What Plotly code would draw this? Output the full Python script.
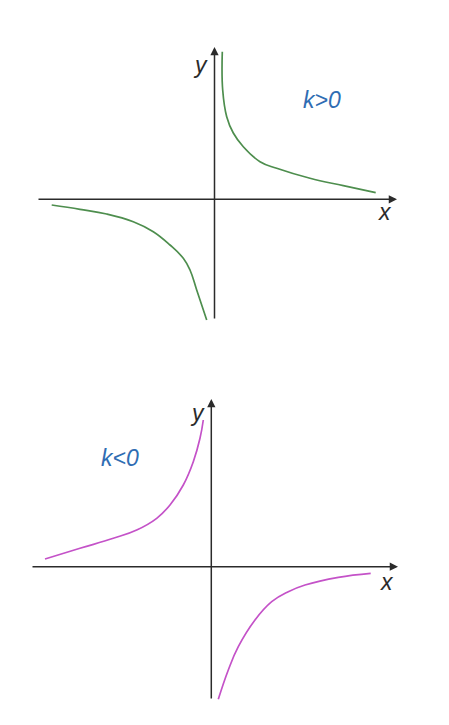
import plotly.graph_objects as go

# ---- data (units: arbitrary, origin at axis crossing) ----
# top chart: k>0
top_right_x = [0.78, 0.82, 1.22, 1.88, 2.88, 4.55, 6.22, 9.55, 12.88, 16.12]
top_right_y = [14.76, 10.93, 8.26, 6.63, 5.26, 3.76, 3.10, 2.10, 1.36, 0.66]
top_left_x = [-16.28, -13.45, -10.78, -8.12, -6.12, -4.45, -3.12, -2.45, -1.78, -0.78]
top_left_y = [-0.57, -1.0, -1.47, -2.24, -3.24, -4.57, -5.90, -7.07, -9.07, -12.07]
top_axis_x = [-17.75, 18.25]
top_axis_y = [-12.07, 15.23]

# bottom chart: k<0
bot_left_x = [-16.63, -13.13, -9.8, -7.46, -5.46, -4.13, -2.8, -1.8, -1.13, -0.8]
bot_left_y = [0.77, 1.84, 2.84, 3.67, 4.84, 6.17, 8.17, 10.5, 12.84, 14.67]
bot_right_x = [0.7, 1.7, 2.7, 4.37, 6.04, 7.7, 9.37, 12.7, 15.94]
bot_right_y = [-13.26, -10.33, -8.0, -5.33, -3.5, -2.5, -1.83, -1.06, -0.66]
bot_axis_x = [-18.03, 18.67]
bot_axis_y = [-13.33, 16.77]

labels_top = {"y": (-1.45, 13.43), "x": (17.05, -1.27), "k": (10.75, 9.93)}
labels_bot = {"y": (-1.43, 15.37), "x": (17.57, -1.53), "k": (-9.13, 10.87)}

GREEN = "#4e8e4e"
MAGENTA = "#c452c8"
AXIS = "#2b2b2b"
BLUE = "#2f6db3"

fig = go.Figure()
for xs, ys in [(top_right_x, top_right_y), (top_left_x, top_left_y)]:
    fig.add_trace(go.Scatter(x=xs, y=ys, mode="lines", line=dict(color=GREEN, width=1.7, shape="spline", smoothing=1.2),
                             xaxis="x", yaxis="y", showlegend=False, hoverinfo="skip"))
for xs, ys in [(bot_left_x, bot_left_y), (bot_right_x, bot_right_y)]:
    fig.add_trace(go.Scatter(x=xs, y=ys, mode="lines", line=dict(color=MAGENTA, width=1.7, shape="spline", smoothing=1.2),
                             xaxis="x2", yaxis="y2", showlegend=False, hoverinfo="skip"))

anns = []
def axis_arrows(ax_x, ax_y, xr, yr):
    anns.append(dict(x=ax_x[1], y=0, ax=ax_x[0], ay=0, xref=xr, yref=yr, axref=xr, ayref=yr,
                     showarrow=True, arrowhead=2, arrowsize=1.1, arrowwidth=1.5, arrowcolor=AXIS, text=""))
    anns.append(dict(x=0, y=ax_y[1], ax=0, ay=ax_y[0], xref=xr, yref=yr, axref=xr, ayref=yr,
                     showarrow=True, arrowhead=2, arrowsize=1.1, arrowwidth=1.5, arrowcolor=AXIS, text=""))

axis_arrows(top_axis_x, top_axis_y, "x", "y")
axis_arrows(bot_axis_x, bot_axis_y, "x2", "y2")

def labels(lab, ktext, xr, yr):
    for key in ("x", "y"):
        px, py = lab[key]
        anns.append(dict(x=px, y=py, xref=xr, yref=yr, text=key, showarrow=False,
                         font=dict(family="Liberation Sans, Arial", size=23, color=AXIS, style="italic")))
    px, py = lab["k"]
    anns.append(dict(x=px, y=py, xref=xr, yref=yr, text=ktext, showarrow=False,
                     font=dict(family="Liberation Sans, Arial", size=23, color=BLUE, style="italic")))

labels(labels_top, "k&gt;0", "x", "y")
labels(labels_bot, "k&lt;0", "x2", "y2")

hidden = dict(showgrid=False, zeroline=False, showticklabels=False, showline=False, ticks="", fixedrange=True)
fig.update_layout(
    width=441, height=709, margin=dict(l=0, r=0, t=0, b=0),
    paper_bgcolor="white", plot_bgcolor="white",
    xaxis=dict(domain=[0, 1], range=[-20.65, 23.45], anchor="y", **hidden),
    yaxis=dict(domain=[0.5, 1], range=[-16.32, 19.13], anchor="x", **hidden),
    xaxis2=dict(domain=[0, 1], range=[-20.33, 23.77], anchor="y2", **hidden),
    yaxis2=dict(domain=[0, 0.5], range=[-15.03, 20.42], anchor="x2", **hidden),
    annotations=anns,
)
fig.write_html("out.html")
